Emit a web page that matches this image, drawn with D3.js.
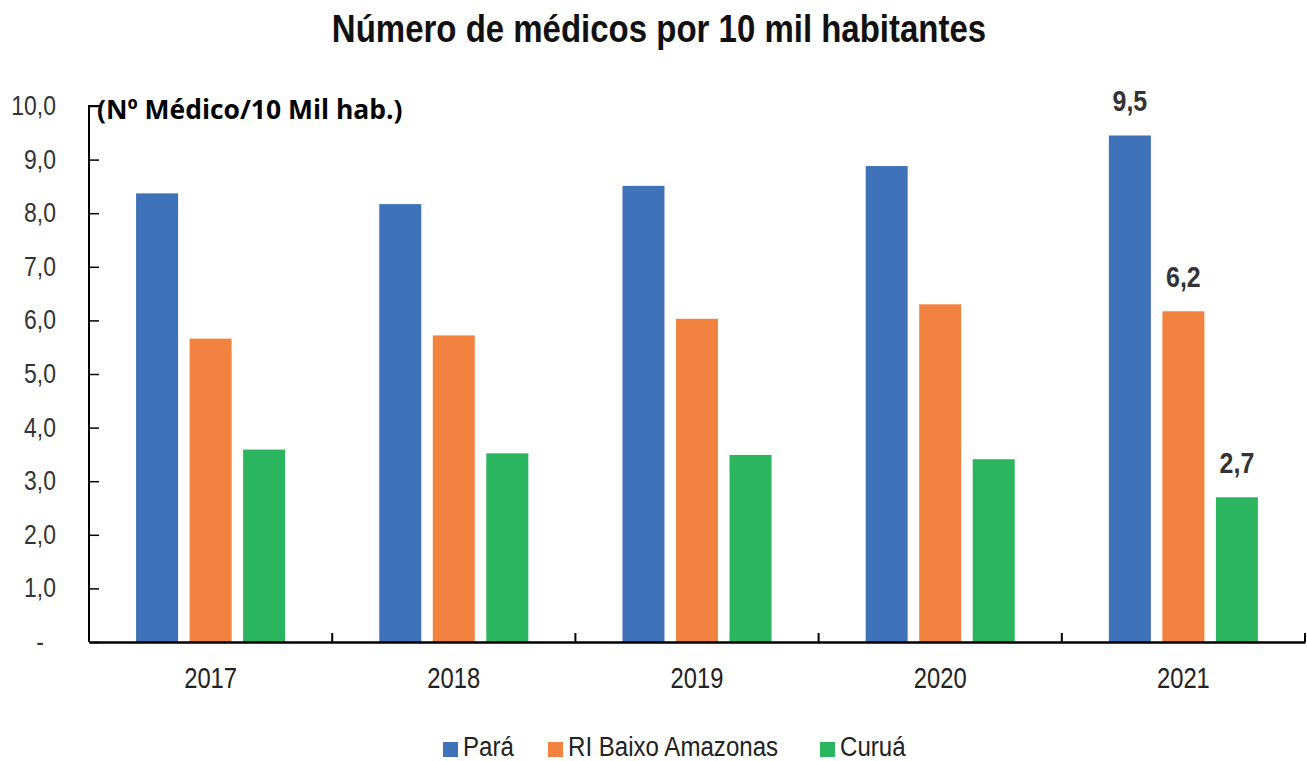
<!DOCTYPE html>
<html>
<head>
<meta charset="utf-8">
<script src="https://cdn.jsdelivr.net/npm/d3@7"></script>
<style>
  body { margin: 0; background: #fff; }
  text { font-family: "Liberation Sans", Arial, sans-serif; }
</style>
</head>
<body>
<div id="chart"></div>
<script>
const years = ['2017', '2018', '2019', '2020', '2021'];
const seriesNames = ['Pará', 'RI Baixo Amazonas', 'Curuá'];
const para = [8.37, 8.17, 8.51, 8.88, 9.45];
const baixoAmazonas = [5.66, 5.72, 6.03, 6.30, 6.17];
const curua = [3.59, 3.52, 3.49, 3.41, 2.70];
const colors = ['#3f72b9', '#f28240', '#2bb55e'];
const yTicks = [0, 1, 2, 3, 4, 5, 6, 7, 8, 9, 10];
// only the last year gets value labels
const labelled = { '2021': ['9,5', '6,2', '2,7'] };

const width = 1307, height = 761;
const margins = { top: 106, right: 2, bottom: 119, left: 89 };

const svg = d3.select('#chart').append('svg')
  .attr('width', width)
  .attr('height', height);

// narrow look: squeeze a regular font sideways
function squeezed(parent, x, y, sx) {
  return parent.append('g')
    .attr('transform', `translate(${x},${y}) scale(${sx},1)`)
    .append('text');
}

const x = d3.scaleBand()
  .domain(years)
  .range([margins.left, width - margins.right]);

const y = d3.scaleLinear()
  .domain([0, 10])
  .range([height - margins.bottom, margins.top]);

const inner = d3.scaleBand()
  .domain(seriesNames)
  .range([x.bandwidth() / 2 - 80.25, x.bandwidth() / 2 + 80.25])
  .paddingInner(0.215)
  .paddingOuter(0.107);

const table = years.map((yr, i) => ({
  year: yr,
  values: [para[i], baixoAmazonas[i], curua[i]]
}));

// Bars
const groups = svg.selectAll('.grp')
  .data(table)
  .enter().append('g')
  .attr('transform', d => `translate(${x(d.year)},0)`);

groups.selectAll('rect')
  .data(d => d.values.map((v, k) => ({ v, k, year: d.year })))
  .enter().append('rect')
  .attr('x', d => inner(seriesNames[d.k]))
  .attr('y', d => y(d.v))
  .attr('width', inner.bandwidth())
  .attr('height', d => y(0) - y(d.v))
  .attr('fill', d => colors[d.k]);

// Value labels
groups.each(function (d) {
  const g = d3.select(this);
  (labelled[d.year] || []).forEach((t, k) => {
    squeezed(g, inner(seriesNames[k]) + inner.bandwidth() / 2, y(d.values[k]) - 24, 0.86)
      .attr('text-anchor', 'middle')
      .style('font-size', '29px')
      .style('font-weight', 'bold')
      .style('fill', '#333')
      .text(t);
  });
});

// Y axis
const yAxis = d3.axisRight(y)
  .tickValues(yTicks)
  .tickSize(10)
  .tickFormat(() => '');
const yg = svg.append('g')
  .attr('transform', `translate(${margins.left},0)`)
  .call(yAxis);
yg.select('.domain').attr('stroke', '#000').attr('stroke-width', 2)
  .attr('d', `M${10},${y(10)}H0V${y(0)}`);
yg.selectAll('.tick line').attr('stroke', '#000').attr('stroke-width', 1.5);

const yl = svg.append('g');
yTicks.forEach(v => {
  squeezed(yl, v === 0 ? 44 : 56, y(v) + 9, 0.85)
    .attr('text-anchor', 'end')
    .style('font-size', '27px')
    .style('fill', '#333')
    .text(v === 0 ? '-' : d3.format('.1f')(v).replace('.', ','));
});

// X axis
const xAxis = d3.axisTop(x)
  .tickValues([])
  .tickSizeOuter(0);
const xg = svg.append('g')
  .attr('transform', `translate(0,${y(0)})`)
  .call(xAxis);
xg.select('.domain').attr('stroke', '#000').attr('stroke-width', 2.5);

svg.append('g').selectAll('line')
  .data(years.concat(['end']))
  .enter().append('line')
  .attr('x1', (d, i) => margins.left + i * x.step())
  .attr('x2', (d, i) => margins.left + i * x.step())
  .attr('y1', y(0))
  .attr('y2', y(0) - 9)
  .attr('stroke', '#000')
  .attr('stroke-width', 2);

const xl = svg.append('g');
years.forEach(d => {
  squeezed(xl, x(d) + x.bandwidth() / 2, 688, 0.82)
    .attr('text-anchor', 'middle')
    .style('font-size', '29px')
    .style('fill', '#222')
    .text(d);
});

// Title
squeezed(svg, 659, 42, 0.868)
  .attr('text-anchor', 'middle')
  .style('font-size', '38px')
  .style('font-weight', 'bold')
  .style('fill', '#111')
  .text('Número de médicos por 10 mil habitantes');

// Unit label
squeezed(svg, 97, 119, 0.98)
  .style('font-family', '"Open Sans", "Noto Sans", sans-serif')
  .style('font-size', '27px')
  .style('font-weight', 'bold')
  .style('fill', '#000')
  .text('(Nº Médico/10 Mil hab.)');

// Legend
const legendX = [443, 548, 820];
const lg = svg.append('g');
seriesNames.forEach((name, i) => {
  lg.append('rect')
    .attr('x', legendX[i])
    .attr('y', 742)
    .attr('width', 15)
    .attr('height', 15)
    .attr('fill', colors[i]);
  squeezed(lg, legendX[i] + 20, 756, 0.86)
    .style('font-size', '28px')
    .style('fill', '#222')
    .text(name);
});
</script>
</body>
</html>
